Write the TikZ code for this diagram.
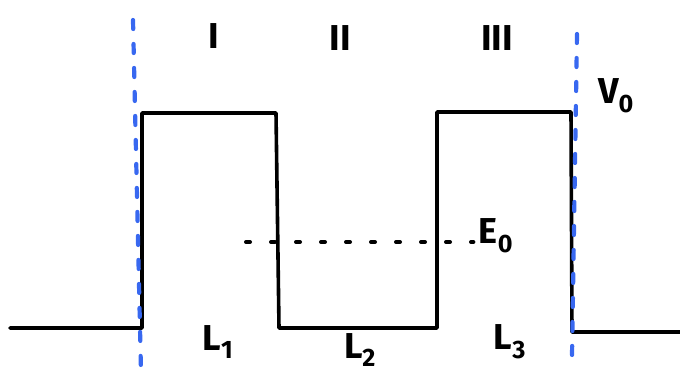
\documentclass[tikz,border=0pt]{standalone}
\usepackage{fontspec}
\setmainfont{Fira Sans}
\usetikzlibrary{positioning, calc}
\definecolor{markblue}{HTML}{3868F0}

\begin{document}
\begin{tikzpicture}[
  x=1pt, y=-1pt,
  wall/.style={line width=3.6pt, line cap=round, line join=round},
  region/.style={draw=markblue, line width=4.2pt, line cap=round, dash pattern=on 9pt off 15pt},
  level/.style={line width=4pt, line cap=round, dash pattern=on 4pt off 21pt},
  every node/.style={font=\fontsize{36}{40}\selectfont\bfseries}
]
\useasboundingbox (0,0) rectangle (680,377);

%--------------------------------------
% Potential profile
%--------------------------------------
\coordinate (floorL) at (10,328);
\coordinate (wallA) at (142,328);
\coordinate (topA) at (142,113);
\coordinate (topB) at (276,113);
\coordinate (wellA) at (279,328);
\coordinate (wellB) at (437,328);
\coordinate (topC) at (437,112);
\coordinate (topD) at (571,112);
\coordinate (wallD) at (572,332);
\coordinate (floorR) at (680,332);

\draw[wall] (floorL) -- (wallA) -- (topA) -- (topB) -- (wellA) -- (wellB) -- (topC) -- (topD) -- (wallD) -- (floorR);

%--------------------------------------
% Region boundaries
%--------------------------------------
\coordinate (bndLtop) at (133,20);
\coordinate (bndLbot) at (141,372);
\coordinate (bndRtop) at (577,34);
\coordinate (bndRbot) at (572,356);
\draw[region] (bndLtop) -- (bndLbot);
\draw[region] (bndRtop) -- (bndRbot);

%--------------------------------------
% Energy level
%--------------------------------------
\node (energy) at (496,236) {E\textsubscript{0}};
\coordinate (levelstart) at (246,242);
\draw[level] (levelstart) -- ([xshift=-2pt]energy.west |- levelstart);

%--------------------------------------
% Labels
%--------------------------------------
\node (regionI) at (214,36) {I};
\node (regionII) at (340,38) {II};
\node (regionIII) at (497,38) {III};
\node (height) at (616,96) {V\textsubscript{0}};
\node (lenA) at (218,342) {L\textsubscript{1}};
\node (lenB) at (360,350) {L\textsubscript{2}};
\node (lenC) at (510,342) {L\textsubscript{3}};

\end{tikzpicture}
\end{document}
